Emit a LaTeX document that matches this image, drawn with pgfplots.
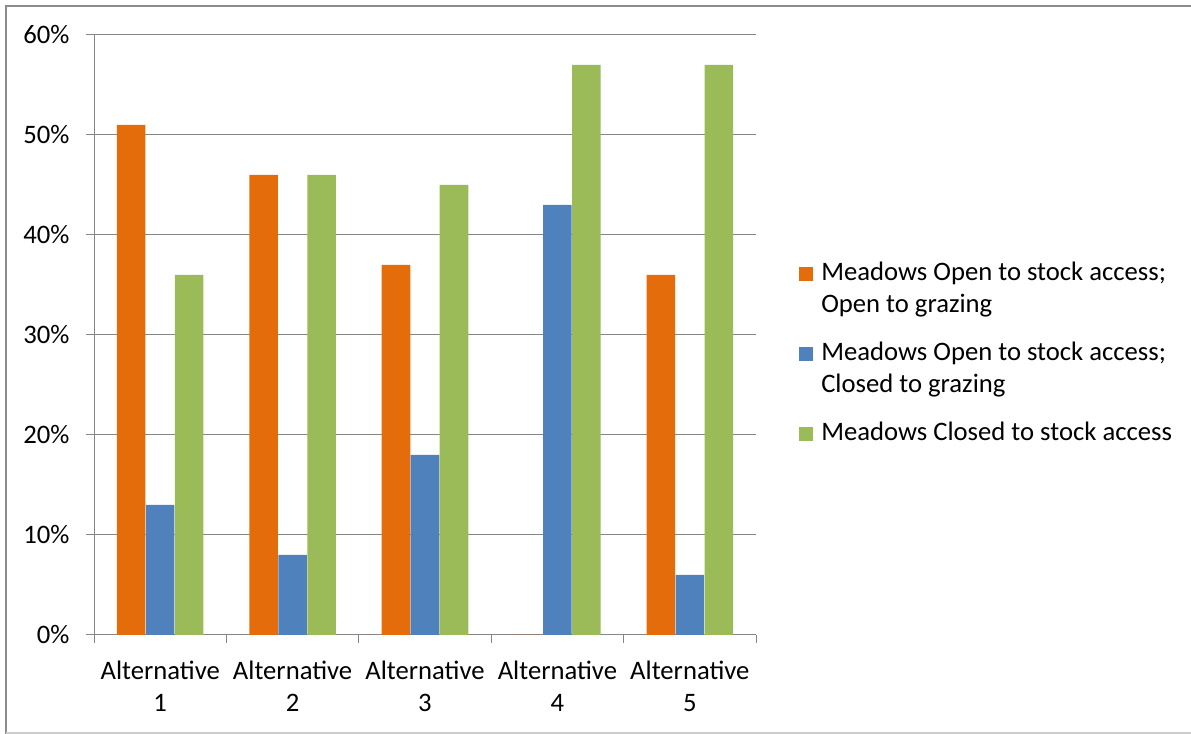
\documentclass[border=0pt]{standalone}
\usepackage{pgfplots}
\pgfplotsset{compat=1.18}
\usepackage{fontspec}
\setmainfont{Carlito}

\definecolor{barOrange}{HTML}{E46C0A}
\definecolor{barBlue}{HTML}{4F81BD}
\definecolor{barGreen}{HTML}{9BBB59}
\definecolor{axisGray}{HTML}{868686}
\definecolor{frameGray}{HTML}{8C8C8C}

\newcommand{\chartfont}{\fontsize{20}{24}\selectfont}

\begin{document}
\chartfont
\begin{tikzpicture}
% page area in pixel-like units (1 unit = 0.75pt), y grows downward
\useasboundingbox (0pt,0pt) rectangle (893.25pt,550.5pt);

\begin{axis}[
  at={(70.5pt,74.25pt)}, anchor=south west,
  scale only axis,
  width=496.5pt, height=450pt,
  ybar, bar width=21.4pt,
  xmin=-0.5, xmax=4.5,
  ymin=0, ymax=60,
  axis x line*=bottom, axis y line*=left,
  axis line style={draw=axisGray, line width=0.75pt},
  every outer x axis line/.append style={-},
  every outer y axis line/.append style={-},
  tick align=outside,
  major tick length=6pt,
  tick style={draw=axisGray, line width=0.75pt},
  ytick={0,10,...,60},
  yticklabel={\pgfmathprintnumber{\tick}\%},
  /pgf/number format/assume math mode=true,
  ymajorgrids,
  grid style={draw=axisGray, line width=0.75pt},
  xtick={-0.5,0.5,...,4.5},
  xticklabels={},
  extra x ticks={0,1,2,3,4},
  extra x tick labels={{Alternative\\1},{Alternative\\2},{Alternative\\3},{Alternative\\4},{Alternative\\5}},
  extra x tick style={major tick length=0pt, grid=none,
    xticklabel style={align=center, anchor=north, yshift=-12.5pt}},
  ticklabel style={font=\chartfont},
  yticklabel style={anchor=east, xshift=-5.5pt},
  clip=false,
]
\addplot[fill=barOrange, draw=none, bar shift=-21.75pt] coordinates {(0,51) (1,46) (2,37) (3,0) (4,36)};
\addplot[fill=barBlue, draw=none, bar shift=0pt] coordinates {(0,13) (1,8) (2,18) (3,43) (4,6)};
\addplot[fill=barGreen, draw=none, bar shift=21.75pt] coordinates {(0,36) (1,46) (2,45) (3,57) (4,57)};
\end{axis}

\begin{scope}[x=0.75pt, y=-0.75pt, shift={(0pt,550.5pt)}]
  % outer chart frame
  \draw[frameGray, line width=0.9pt] (6,740) -- (6,6) -- (1200,6);
  \draw[black!20, line width=0.9pt] (6,733) -- (1200,733);
  % legend
  \fill[barOrange] (799,267) rectangle (813,281);
  \node[anchor=base west, inner sep=0pt] at (821,281) {Meadows Open to stock access;};
  \node[anchor=base west, inner sep=0pt] at (821,313) {Open to grazing};
  \fill[barBlue] (799,347) rectangle (813,361);
  \node[anchor=base west, inner sep=0pt] at (821,361) {Meadows Open to stock access;};
  \node[anchor=base west, inner sep=0pt] at (821,393) {Closed to grazing};
  \fill[barGreen] (799,427) rectangle (813,441);
  \node[anchor=base west, inner sep=0pt] at (821,441) {Meadows Closed to stock access};
\end{scope}
\end{tikzpicture}
\end{document}
